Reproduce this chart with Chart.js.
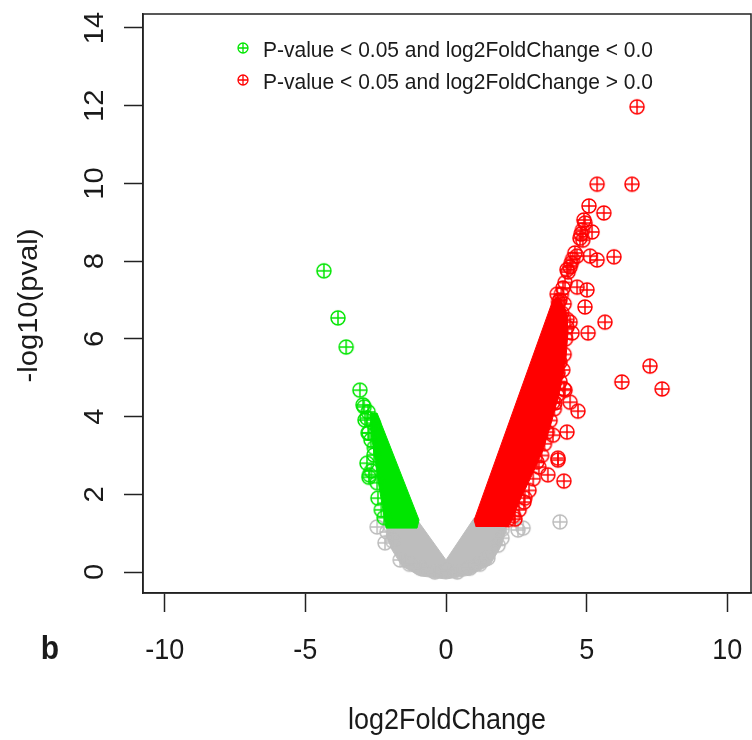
<!DOCTYPE html>
<html>
<head>
<meta charset="utf-8">
<script src="https://cdn.jsdelivr.net/npm/chart.js@4/dist/chart.umd.min.js"></script>
<style>
  html, body { margin: 0; background: #fff; }
</style>
</head>
<body>
<canvas id="volcano" width="752" height="740"></canvas>
<script>
// tick values and labels
const xTicks = [-10, -5, 0, 5, 10];
const yTicks = [0, 2, 4, 6, 8, 10, 12, 14];
const xTitle = 'log2FoldChange';
const yTitle = '-log10(pval)';
const legendLabels = [
  'P-value < 0.05 and log2FoldChange < 0.0',
  'P-value < 0.05 and log2FoldChange > 0.0'
];
const panelLabel = 'b';

// individual genes [log2FoldChange, -log10(pval)]
const upGenes = [
  [6.79, 11.97],
  [5.37, 9.98], [6.61, 9.98],
  [5.08, 9.42], [5.61, 9.24], [4.90, 9.06], [4.94, 8.98],
  [5.19, 8.75], [4.76, 8.59], [4.86, 8.54], [4.80, 8.70], [4.85, 8.80],
  [4.58, 8.21], [5.12, 8.13], [5.37, 8.03], [5.97, 8.11], [4.65, 8.13],
  [4.41, 7.85], [4.34, 7.72], [4.30, 7.78], [4.45, 7.95], [4.50, 8.05],
  [4.16, 7.31], [4.66, 7.33], [5.01, 7.26], [4.23, 7.45],
  [3.95, 7.15], [4.00, 6.95], [4.10, 7.15],
  [4.05, 7.00], [4.94, 6.82], [4.12, 6.66], [5.65, 6.43], [4.41, 6.43], [4.30, 6.30],
  [5.05, 6.15], [4.48, 6.15], [4.05, 6.05],
  [7.25, 5.30], [6.25, 4.89], [7.68, 4.71],
  [4.05, 5.40], [3.98, 5.12], [4.23, 4.68], [4.19, 4.71], [3.80, 4.37],
  [4.41, 4.37], [3.87, 4.35], [4.69, 4.14],
  [4.30, 3.60], [3.80, 3.52], [3.98, 2.93], [3.98, 2.88], [3.62, 2.50],
  [4.19, 2.34], [3.23, 2.83],
  [2.77, 1.80], [2.45, 1.36],
  [4.20, 6.90], [4.30, 6.50], [4.25, 6.00], [4.20, 5.60], [4.15, 5.20],
  [4.05, 4.90], [3.95, 4.55], [3.85, 4.20], [3.70, 3.90], [3.60, 3.60],
  [3.50, 3.30], [3.40, 3.00], [3.30, 2.70], [3.10, 2.40], [2.95, 2.10],
  [2.80, 1.90], [2.60, 1.60], [2.40, 1.45], [2.20, 1.35]
];
const downGenes = [
  [-4.34, 7.75], [-3.84, 6.54], [-3.55, 5.79], [-3.06, 4.68],
  [-2.95, 4.30], [-2.91, 4.25], [-2.77, 4.12], [-2.88, 3.91], [-2.81, 3.96],
  [-2.59, 3.83], [-2.77, 3.58], [-2.74, 3.58], [-2.67, 3.40], [-2.56, 3.01],
  [-2.81, 2.80], [-2.74, 2.44], [-2.72, 2.50], [-2.65, 2.60], [-2.55, 3.20],
  [-2.45, 2.30], [-2.42, 1.90], [-2.30, 1.60], [-2.20, 1.40]
];
const nsGenes = [
  [-2.45, 1.16], [-2.17, 0.75], [-2.10, 1.03], [-2.00, 1.20], [-1.90, 0.80],
  [-1.63, 0.31], [-1.30, 0.20], [-0.92, 0.10], [-0.40, 0.00], [0.00, 0.03],
  [0.40, 0.00], [0.85, 0.10], [1.20, 0.20], [1.49, 0.36], [1.85, 0.69],
  [1.99, 0.87], [2.00, 1.10], [2.56, 1.08], [2.74, 1.13], [4.05, 1.29]
];

// outlines of the crowded parts of each group, where markers merge into a solid patch
const upCore = [
  [1.07, 1.16], [1.00, 1.34], [3.80, 7.00], [3.98, 7.10], [4.26, 6.74],
  [4.34, 6.23], [4.26, 5.46], [4.05, 4.68], [3.77, 3.91], [3.45, 3.14],
  [3.06, 2.50], [2.63, 1.85], [2.35, 1.34], [2.20, 1.16]
];
const downCore = [
  [-2.70, 4.09], [-2.45, 4.09], [-0.96, 1.34], [-1.03, 1.13], [-2.13, 1.13],
  [-2.27, 1.72], [-2.42, 2.37], [-2.52, 2.88], [-2.63, 3.40], [-2.70, 3.78]
];
const nsCore = [
  [-2.06, 1.39], [-1.07, 1.39], [0.00, 0.31], [1.00, 1.39], [2.10, 1.39],
  [2.13, 1.03], [1.92, 0.62], [1.56, 0.18], [0.85, -0.08], [0.00, -0.18],
  [-0.92, -0.10], [-1.56, 0.15], [-1.92, 0.57], [-2.13, 0.95]
];

const RED = '#ff0000';
const GREEN = '#00e600';
const GREY = '#bdbdbd';
const INK = '#1a1a1a';
const FONT = '"Liberation Sans", Arial, Helvetica, sans-serif';
const SY = 1.08; // the source picture is a little taller than wide

// R's pch 10: circle with a plus inside
function crossCircle(color, r, lw) {
  const size = Math.ceil(2 * r + lw + 2);
  const c = document.createElement('canvas');
  c.width = c.height = size;
  const g = c.getContext('2d');
  const m = size / 2;
  g.strokeStyle = color;
  g.lineWidth = lw;
  g.beginPath();
  g.arc(m, m, r, 0, Math.PI * 2);
  g.stroke();
  g.beginPath();
  g.moveTo(m - r, m); g.lineTo(m + r, m);
  g.moveTo(m, m - r); g.lineTo(m, m + r);
  g.stroke();
  return c;
}

const toXY = arr => arr.map(p => ({ x: p[0], y: p[1] }));

function pointsSet(data, color, order) {
  return {
    data: toXY(data),
    pointStyle: crossCircle(color, 7, 1.5),
    pointRadius: 7,
    order: order
  };
}

function coreSet(data, color, order) {
  return {
    type: 'line',
    data: toXY(data),
    borderColor: color,
    backgroundColor: color,
    borderWidth: 1,
    pointRadius: 0,
    fill: 'shape',
    order: order
  };
}

// text drawn on its alphabetic baseline, slightly stretched vertically
function putText(ctx, txt, x, y, font, rotated, align) {
  ctx.save();
  ctx.translate(x, y);
  if (rotated) {
    ctx.rotate(-Math.PI / 2);
    ctx.scale(SY, 1);
  } else {
    ctx.scale(1, SY);
  }
  ctx.font = font;
  ctx.textAlign = align || 'center';
  ctx.textBaseline = 'alphabetic';
  ctx.fillText(txt, 0, 0);
  ctx.restore();
}

const legendMarks = [crossCircle(GREEN, 5, 1.3), crossCircle(RED, 5, 1.3)];

const rStyle = {
  id: 'rStyle',
  afterDraw(chart) {
    const { ctx, chartArea: a, scales: { x, y } } = chart;
    ctx.save();
    // box round the plot
    ctx.strokeStyle = '#222';
    ctx.lineWidth = 1.5;
    ctx.strokeRect(a.left, a.top, a.right - a.left, a.bottom - a.top);

    ctx.fillStyle = INK;
    const axisFont = '27px ' + FONT;
    xTicks.forEach(v => putText(ctx, String(v), x.getPixelForValue(v), a.bottom + 66, axisFont, false));
    yTicks.forEach(v => putText(ctx, String(v), a.left - 40, y.getPixelForValue(v), axisFont, true));
    putText(ctx, xTitle, (a.left + a.right) / 2, a.bottom + 136, axisFont, false);
    putText(ctx, yTitle, 37, (a.top + a.bottom) / 2 + 2, axisFont, true);

    // panel letter
    putText(ctx, panelLabel, 50, a.bottom + 66, 'bold 30px ' + FONT, false);

    // legend inside the box
    legendLabels.forEach((txt, i) => {
      const cy = a.top + 34 + i * 32;
      const m = legendMarks[i];
      ctx.drawImage(m, a.left + 100 - m.width / 2, cy - m.height / 2);
      putText(ctx, txt, a.left + 120, cy + 9, '21px ' + FONT, false, 'left');
    });
    ctx.restore();
  }
};

const axisCommon = {
  type: 'linear',
  grid: {
    drawOnChartArea: false,
    tickLength: 19,
    tickColor: '#222',
    tickWidth: 1.5
  },
  border: { display: true, color: '#222', width: 1.5 },
  ticks: { display: false },
  title: { display: false }
};

new Chart(document.getElementById('volcano'), {
  type: 'scatter',
  data: {
    datasets: [
      pointsSet(upGenes, RED, 1),
      pointsSet(downGenes, GREEN, 2),
      coreSet(upCore, RED, 3),
      coreSet(downCore, GREEN, 4),
      pointsSet(nsGenes, GREY, 5),
      coreSet(nsCore, GREY, 6)
    ]
  },
  options: {
    responsive: false,
    animation: false,
    layout: { autoPadding: false, padding: { top: 14, right: 1, left: 0, bottom: 0 } },
    plugins: {
      legend: { display: false },
      tooltip: { enabled: false }
    },
    scales: {
      x: {
        ...axisCommon,
        min: -10.77,
        max: 10.84,
        afterBuildTicks: s => { s.ticks = xTicks.map(v => ({ value: v })); },
        afterFit: s => { s.height = 147; s.paddingLeft = 0; s.paddingRight = 0; }
      },
      y: {
        ...axisCommon,
        min: -0.54,
        max: 14.36,
        afterBuildTicks: s => { s.ticks = yTicks.map(v => ({ value: v })); },
        afterFit: s => { s.width = 143; s.paddingTop = 0; s.paddingBottom = 0; }
      }
    }
  },
  plugins: [rStyle]
});
</script>
</body>
</html>
